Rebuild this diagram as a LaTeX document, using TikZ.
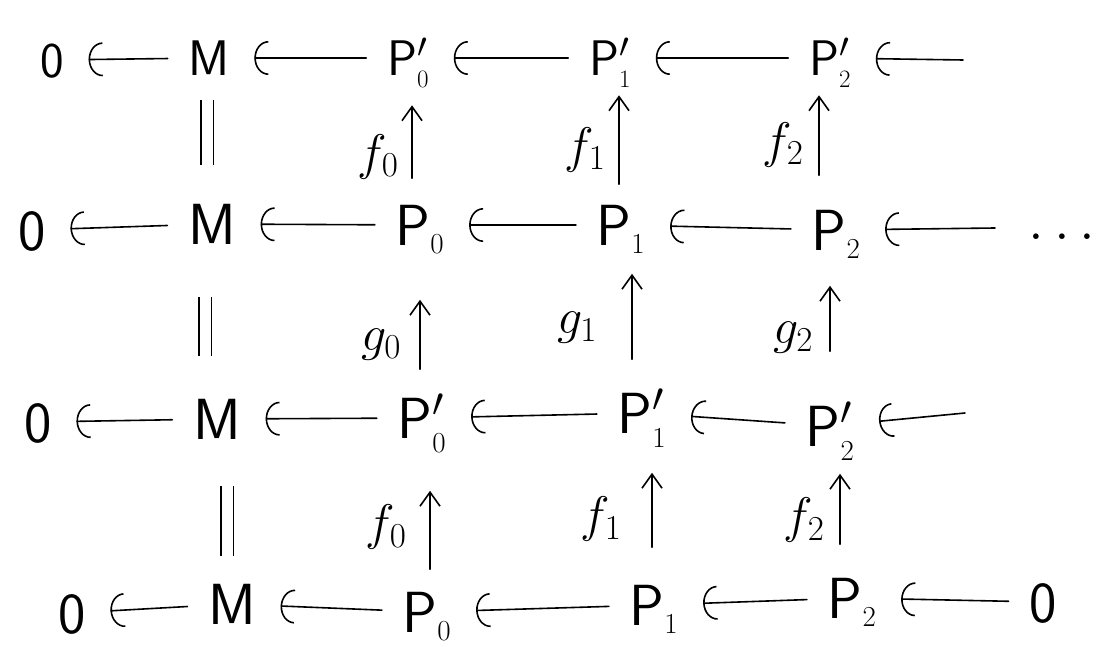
\RequirePackage{fix-cm}
\documentclass[tikz,border=0pt]{standalone}
\usetikzlibrary{arrows.meta}
\tikzset{
  obj/.style={inner sep=6pt, text height=40pt, text depth=0pt, font=\fontsize{58}{58}\selectfont},
  rowone/.style={text height=35pt, font=\fontsize{50}{50}\selectfont},
  lab/.style={inner sep=2pt, font=\fontsize{50}{50}\selectfont},
  harr/.style={-{Arc Barb[length=14pt,width=34pt]}, shorten >=18pt, shorten <=14pt},
  varr/.style={-{Straight Barb[length=14pt,width=20pt]}},
  eqline/.style={double, double distance=11pt, line cap=butt},
}
\begin{document}
\begin{tikzpicture}[x=1pt, y=-1pt, line width=1.6pt, line cap=round, line join=round]
\path[use as bounding box, fill=white] (0,0) rectangle (1097,655);

% row 1
\node[obj,rowone] (Z1) at (52,60) {$\mathsf{0}$};
\node[obj,rowone] (M1) at (209,58) {$\mathsf{M}$};
\node[obj,rowone] (A0) at (408,58) {$\mathsf{P}'_{\scriptscriptstyle 0}$};
\node[obj,rowone] (A1) at (610,58) {$\mathsf{P}'_{\scriptscriptstyle 1}$};
\node[obj,rowone] (A2) at (830,58) {$\mathsf{P}'_{\scriptscriptstyle 2}$};
\coordinate (t1) at (963,60);

% row 2
\node[obj] (Z2) at (32,230) {$\mathsf{0}$};
\node[obj] (M2) at (212,224) {$\mathsf{M}$};
\node[obj] (B0) at (420,225) {$\mathsf{P}_{\scriptscriptstyle 0}$};
\node[obj] (B1) at (621,225) {$\mathsf{P}_{\scriptscriptstyle 1}$};
\node[obj] (B2) at (836,230) {$\mathsf{P}_{\scriptscriptstyle 2}$};
\coordinate (t2) at (995,228);
\node[inner sep=0pt, anchor=base, font=\fontsize{58}{58}\selectfont] (D) at (1062,240) {$\ldots$};

% row 3
\node[obj] (Z3) at (38,422) {$\mathsf{0}$};
\node[obj] (M3) at (217,419) {$\mathsf{M}$};
\node[obj] (C0) at (422,418) {$\mathsf{P}'_{\scriptscriptstyle 0}$};
\node[obj] (C1) at (642,413) {$\mathsf{P}'_{\scriptscriptstyle 1}$};
\node[obj] (C2) at (830,426) {$\mathsf{P}'_{\scriptscriptstyle 2}$};
\coordinate (t3) at (965,413);

% row 4
\node[obj] (Z4) at (72,613) {$\mathsf{0}$};
\node[obj] (M4) at (232,604) {$\mathsf{M}$};
\node[obj] (E0) at (427,612) {$\mathsf{P}_{\scriptscriptstyle 0}$};
\node[obj] (E1) at (654,605) {$\mathsf{P}_{\scriptscriptstyle 1}$};
\node[obj] (E2) at (852,598) {$\mathsf{P}_{\scriptscriptstyle 2}$};
\node[obj] (Z5) at (1043,602) {$\mathsf{0}$};

% horizontal arrows
\draw[harr] (M1) -- (Z1);
\draw[harr] (A0) -- (M1);
\draw[harr] (A1) -- (A0);
\draw[harr] (A2) -- (A1);
\draw[harr, shorten <=0pt] (t1) -- (A2);

\draw[harr] (M2) -- (Z2);
\draw[harr] (B0) -- (M2);
\draw[harr] (B1) -- (B0);
\draw[harr] (B2) -- (B1);
\draw[harr, shorten <=0pt] (t2) -- (B2);

\draw[harr] (M3) -- (Z3);
\draw[harr] (C0) -- (M3);
\draw[harr] (C1) -- (C0);
\draw[harr] (C2) -- (C1);
\draw[harr, shorten <=0pt] (t3) -- (C2);

\draw[harr] (M4) -- (Z4);
\draw[harr] (E0) -- (M4);
\draw[harr] (E1) -- (E0);
\draw[harr] (E2) -- (E1);
\draw[harr] (Z5) -- (E2);

% equalities
\draw[eqline, shorten <=32pt, shorten >=18pt] ([xshift=-5pt]M2.north) -- ([xshift=-2pt]M1.south);
\draw[eqline, shorten <=36pt, shorten >=46pt] ([xshift=-12pt]M3.north) -- ([xshift=-7pt]M2.south);
\draw[eqline, shorten <=21pt, shorten >=40pt] ([xshift=-5pt]M4.north) -- ([xshift=10pt]M3.south);

% vertical maps rows 2 -> 1
\draw[varr, shorten <=20pt, shorten >=23pt] ([xshift=-8pt]B0.north) -- ([xshift=4pt]A0.south);
\draw[varr, shorten <=14pt, shorten >=13pt] ([xshift=-2pt]B1.north) -- ([xshift=9pt]A1.south);
\draw[varr, shorten <=28pt, shorten >=13pt] ([xshift=-17pt]B2.north) -- ([xshift=-11pt]A2.south);
\node[lab] (f0) at (378,157) {$f_0$};
\node[lab] (f1) at (585,150) {$f_1$};
\node[lab] (f2) at (783,145) {$f_2$};

% vertical maps rows 3 -> 2
\draw[varr, shorten <=22pt, shorten >=48pt] ([xshift=-2pt]C0.north) -- (B0.south);
\draw[varr, shorten <=27pt, shorten >=22pt] ([xshift=-10pt]C1.north) -- ([xshift=11pt]B1.south);
\draw[varr, shorten <=48pt, shorten >=29pt] (C2.north) -- ([xshift=-6pt]B2.south);
\node[lab] (g0) at (381,345) {$g_0$};
\node[lab] (g1) at (577,328) {$g_1$};
\node[lab] (g2) at (793,338) {$g_2$};

% vertical maps rows 4 -> 3
\draw[varr, shorten <=16pt, shorten >=46pt] ([xshift=3pt]E0.north) -- ([xshift=8pt]C0.south);
\draw[varr, shorten <=31pt, shorten >=33pt] ([xshift=-2pt]E1.north) -- ([xshift=10pt]C1.south);
\draw[varr, shorten <=27pt, shorten >=21pt] ([xshift=-12pt]E2.north) -- ([xshift=10pt]C2.south);
\node[lab] (h0) at (386,527) {$f_0$};
\node[lab] (h1) at (601,519) {$f_1$};
\node[lab] (h2) at (804,520) {$f_2$};
\end{tikzpicture}
\end{document}
